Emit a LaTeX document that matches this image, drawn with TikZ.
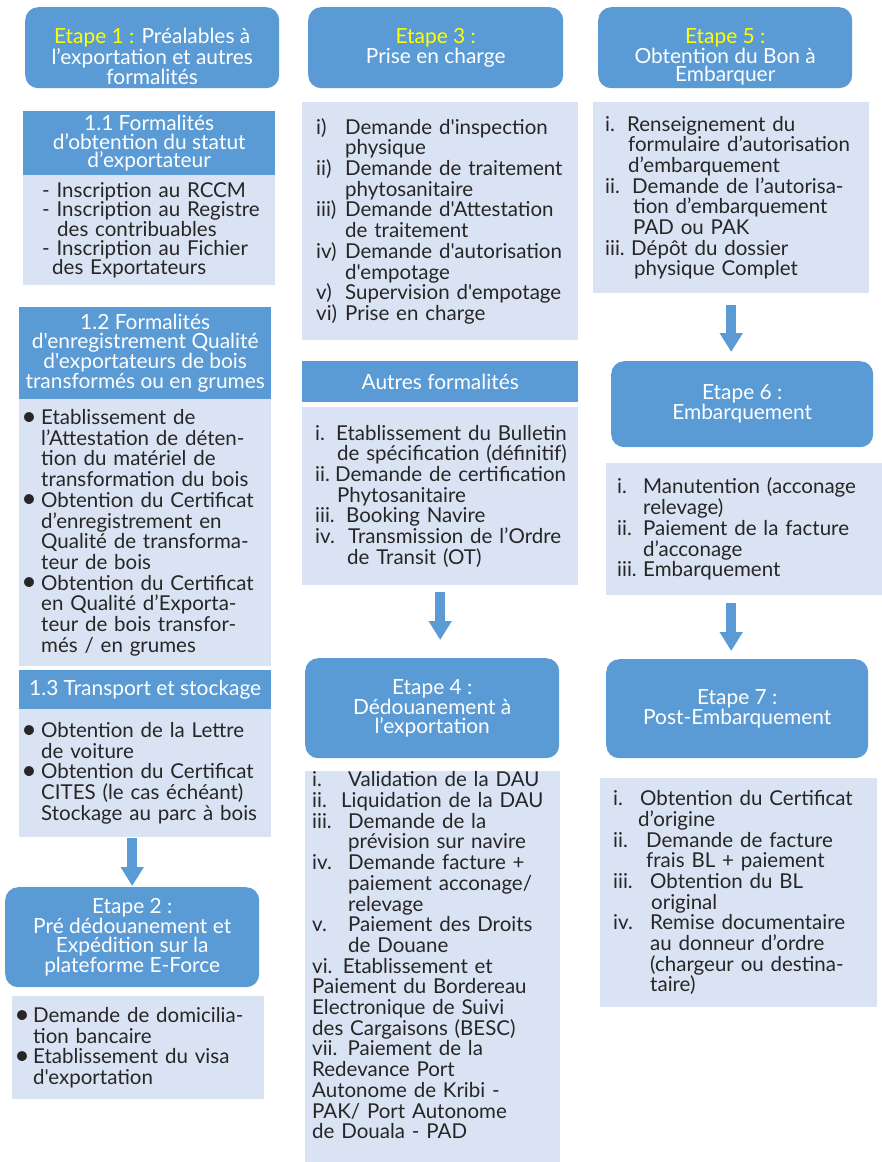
\documentclass[tikz,border=0pt]{standalone}
\usepackage{fontspec}
\setmainfont{Lato}[Ligatures=TeXOff]
\usetikzlibrary{arrows.meta}

\definecolor{stepblue}{HTML}{5B9BD5}
\definecolor{listfill}{HTML}{DAE3F3}
\definecolor{listtext}{HTML}{262626}
\definecolor{stepyellow}{HTML}{FFFF00}

\newcommand\hdfont{\fontsize{20.9}{18.7}\selectfont}
\newcommand\lsfont{\fontsize{20.5}{20.7}\selectfont}
\newcommand\lbl[2]{\makebox[#1pt][l]{#2}}
\newcommand\ind[1]{\hspace*{#1pt}}
\newcommand\puce[1]{\hspace*{#1pt}\makebox[0pt]{\raisebox{-0.6pt}{\scalebox{1.3}{\textbullet}}}}

\begin{document}
\begin{tikzpicture}[
  x=1pt, y=-1pt,
  etape/.style={fill=stepblue, text=white, font=\hdfont, align=center,
    anchor=north west, rounded corners=13pt, inner sep=0pt},
  titre/.style={fill=stepblue, text=white, font=\hdfont, align=center,
    anchor=north west, inner sep=0pt},
  liste/.style={fill=listfill, text=listtext, font=\lsfont, align=left,
    anchor=north west, inner sep=0pt, execute at begin node={\leftskip=#1pt}},
  fleche/.style={draw=stepblue, line width=10pt,
    -{Triangle[width=22pt, length=19pt]}},
]
\useasboundingbox (0,0) rectangle (882,1162);

% ── Colonne 1 : Etapes 1 et 2 ────────────────────────────────────────────────
\node[etape, minimum width=254, minimum height=81] (E1) at (25,7)
  {\rule{0pt}{33pt}{\color{stepyellow}Etape 1 :} Préalables à\\
   l’exportation et autres\\ formalités};

\node[titre, minimum width=252, minimum height=64] (T11) at (23,111)
  {1.1 Formalités\\ d’obtention du statut\\ d’exportateur};
\node[liste=19, text width=252pt, minimum height=110,
  font=\fontsize{20.5}{18.5}\selectfont] (L11) at (23,175)
  {- Inscription au RCCM\\
   - Inscription au Registre\\
   \ind{15}des contribuables\\
   - Inscription au Fichier\\
   \ind{10}des Exportateurs};

\node[titre, minimum width=252, minimum height=92] (T12) at (19,307)
  {1.2 Formalités\\ d'enregistrement Qualité\\ d'exportateurs de bois\\
   transformés ou en grumes};
\node[liste=10, text width=252pt, minimum height=267] (L12) at (19,399)
  {\lbl{12}{\puce{0}}Etablissement de\\
   \ind{12}l’Attestation de déten-\\
   \ind{12}tion du matériel de\\
   \ind{12}transformation du bois\\
   \lbl{12}{\puce{0}}Obtention du Certificat\\
   \ind{12}d’enregistrement en\\
   \ind{12}Qualité de transforma-\\
   \ind{12}teur de bois\\
   \lbl{12}{\puce{0}}Obtention du Certificat\\
   \ind{12}en Qualité d’Exporta-\\
   \ind{12}teur de bois transfor-\\
   \ind{12}més / en grumes};

\node[titre, minimum width=252, minimum height=39] (T13) at (19,670)
  {1.3 Transport et stockage};
\node[liste=10, text width=252pt, minimum height=128] (L13) at (19,709)
  {\lbl{12}{\puce{0}}Obtention de la Lettre\\
   \ind{12}de voiture\\
   \lbl{12}{\puce{0}}Obtention du Certificat\\
   \ind{12}CITES (le cas échéant)\\
   \ind{12}Stockage au parc à bois};

\node[etape, minimum width=254, minimum height=100] (E2) at (5,887)
  {Etape 2 :\\ Pré dédouanement et\\ Expédition sur la\\ plateforme E-Force};
\node[liste=6, text width=252pt, minimum height=103] (L2) at (12,996)
  {\lbl{15}{\puce{4}}Demande de domicilia-\\
   \ind{15}tion bancaire\\
   \lbl{15}{\puce{4}}Etablissement du visa\\
   \ind{15}d'exportation};

% ── Colonne 2 : Etapes 3 et 4 ────────────────────────────────────────────────
\node[etape, minimum width=255, minimum height=81] (E3) at (308,7)
  {{\color{stepyellow}Etape 3 :}\\ Prise en charge};
\node[liste=14, text width=276pt, minimum height=238] (L3) at (302,102)
  {\lbl{29}{i)}Demande d'inspection\\
   \ind{29}physique\\
   \lbl{29}{ii)}Demande de traitement\\
   \ind{29}phytosanitaire\\
   \lbl{29}{iii)}Demande d'Attestation\\
   \ind{29}de traitement\\
   \lbl{29}{iv)}Demande d'autorisation\\
   \ind{29}d'empotage\\
   \lbl{29}{v)}Supervision d'empotage\\
   \lbl{29}{vi)}Prise en charge};

\node[titre, minimum width=276, minimum height=41] (T3b) at (302,361)
  {Autres formalités};
\node[liste=13, text width=276pt, minimum height=178] (L3b) at (302,407)
  {\lbl{21}{i.}Etablissement du Bulletin\\
   \ind{22}de spécification (définitif)\\
   \lbl{20}{ii.}Demande de certification\\
   \ind{22}Phytosanitaire\\
   \lbl{31}{iii.}Booking Navire\\
   \lbl{33}{iv.}Transmission de l’Ordre\\
   \ind{32}de Transit (OT)};

\node[etape, minimum width=254, minimum height=100] (E4) at (305,658)
  {Etape 4 :\\ Dédouanement à\\ l’exportation};
\node[liste=7, text width=255pt, minimum height=391] (L4) at (305,771)
  {\lbl{36}{i.}Validation de la DAU\\
   \lbl{29}{ii.}Liquidation de la DAU\\
   \lbl{36}{iii.}Demande de la\\
   \ind{36}prévision sur navire\\
   \lbl{36}{iv.}Demande facture +\\
   \ind{36}paiement acconage/\\
   \ind{36}relevage\\
   \lbl{36}{v.}Paiement des Droits\\
   \ind{36}de Douane\\
   vi. Etablissement et\\
   Paiement du Bordereau\\
   Electronique de Suivi\\
   des Cargaisons (BESC)\\
   vii. Paiement de la\\
   Redevance Port\\
   Autonome de Kribi -\\
   PAK/ Port Autonome\\
   de Douala - PAD\rule[-23pt]{0pt}{0pt}};

% ── Colonne 3 : Etapes 5 a 7 ─────────────────────────────────────────────────
\node[etape, minimum width=254, minimum height=81] (E5) at (598,7)
  {\rule{0pt}{33pt}{\color{stepyellow}Etape 5 :}\\ Obtention du Bon à\\ Embarquer};
\node[liste=12, text width=276pt, minimum height=191] (L5) at (593,102)
  {\lbl{22}{i.}Renseignement du\\
   \ind{23}formulaire d’autorisation\\
   \ind{23}d’embarquement\\
   \lbl{27}{ii.}Demande de l’autorisa-\\
   \ind{28}tion d’embarquement\\
   \ind{28}PAD ou PAK\\
   \lbl{26}{iii.}Dépôt du dossier\\
   \ind{29}physique Complet};

\node[etape, minimum width=262, minimum height=86] (E6) at (611,361)
  {Etape 6 :\\ Embarquement};
\node[liste=11, text width=276pt, minimum height=132] (L6) at (606,463)
  {\lbl{26}{i.}Manutention (acconage\\
   \ind{26}relevage)\\
   \lbl{26}{ii.}Paiement de la facture\\
   \ind{26}d’acconage\\
   \lbl{26}{iii.}Embarquement};

\node[etape, minimum width=262, minimum height=99] (E7) at (606,659)
  {Etape 7 :\\ Post-Embarquement};
\node[liste=13, text width=277pt, minimum height=229] (L7) at (600,778)
  {\lbl{27}{i.}Obtention du Certificat\\
   \ind{25}d’origine\\
   \lbl{33}{ii.}Demande de facture\\
   \ind{33}frais BL + paiement\\
   \lbl{37}{iii.}Obtention du BL\\
   \ind{38}original\\
   \lbl{37}{iv.}Remise documentaire\\
   \ind{37}au donneur d’ordre\\
   \ind{37}(chargeur ou destina-\\
   \ind{37}taire)};

% ── Flèches ──────────────────────────────────────────────────────────────────
\draw[fleche, shorten <=1pt, shorten >=1pt] (E2.north |- L13.south) -- (E2.north);
\draw[fleche, shorten <=7pt, shorten >=18pt] (L3b.south) -- (L3b.south |- E4.north);
\draw[fleche, shorten <=12pt, shorten >=9pt] (L5.south) -- (L5.south |- E6.north);
\draw[fleche, shorten <=8pt, shorten >=8pt] (L6.south -| L5.south) -- (E7.north -| L5.south);

\end{tikzpicture}
\end{document}
